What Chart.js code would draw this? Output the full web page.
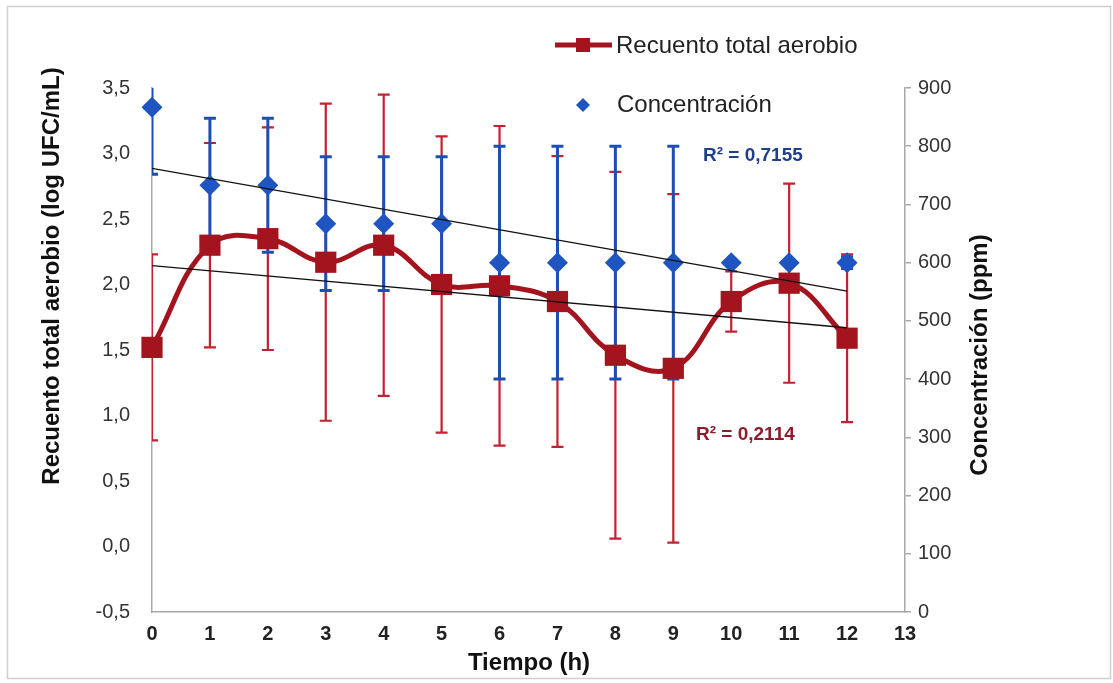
<!DOCTYPE html>
<html>
<head>
<meta charset="utf-8">
<script src="https://cdn.jsdelivr.net/npm/chart.js@4.4.0/dist/chart.umd.min.js"></script>
<style>
  body { margin: 0; background: #fff; }
  #wrap { width: 1113px; height: 683px; }
</style>
</head>
<body>
<div id="wrap"><canvas id="myChart" width="1113" height="683"></canvas></div>
<script>
// datos
const tiempo = [0, 1, 2, 3, 4, 5, 6, 7, 8, 9, 10, 11, 12];
const recuento = [1.52, 2.30, 2.35, 2.17, 2.30, 2.00, 1.99, 1.87, 1.46, 1.36, 1.87, 2.01, 1.59];
const recuentoErr = [0.71, 0.78, 0.85, 1.21, 1.15, 1.13, 1.22, 1.11, 1.40, 1.33, 0.23, 0.76, 0.64];
const concentracion = [867, 733, 733, 667, 667, 667, 600, 600, 600, 600, 600, 600, 600];
const concentracionErr = [115, 115, 115, 115, 115, 115, 200, 200, 200, 200, 0, 0, 10];
const r2Recuento = 'R² = 0,2114';
const r2Concentracion = 'R² = 0,7155';
const leftTicks = { min: -0.5, max: 3.5, step: 0.5 };
const rightTicks = { min: 0, max: 900, step: 100 };
const xTicks = { min: 0, max: 13, step: 1 };

const ROJO = '#a3141f';
const ROJO_ERR = '#c42030';
const AZUL = '#1f55c0';
const AZUL_ERR = '#1c4fb5';
const FONT = '"Liberation Sans", Arial, sans-serif';

// linea de tendencia (minimos cuadrados)
const tendencia = (xs, ys) => {
  const n = xs.length;
  const mx = xs.reduce((a, b) => a + b, 0) / n;
  const my = ys.reduce((a, b) => a + b, 0) / n;
  let sxy = 0, sxx = 0;
  xs.forEach((x, i) => { sxy += (x - mx) * (ys[i] - my); sxx += (x - mx) * (x - mx); });
  const m = sxy / sxx;
  const b = my - m * mx;
  const x0 = xs[0], x1 = xs[n - 1];
  return [{ x: x0, y: b + m * x0 }, { x: x1, y: b + m * x1 }];
};

const pares = (ys) => tiempo.map((t, i) => ({ x: t, y: ys[i] }));

const dibujarBarras = (ctx, sx, sy, ys, errs, color, width) => {
  ctx.strokeStyle = color;
  ctx.lineWidth = width;
  ys.forEach((v, i) => {
    if (!errs[i]) return;
    const x = sx.getPixelForValue(tiempo[i]);
    const yt = sy.getPixelForValue(v + errs[i]);
    const yb = sy.getPixelForValue(v - errs[i]);
    ctx.beginPath();
    ctx.moveTo(x, yt); ctx.lineTo(x, yb);
    ctx.moveTo(x - 6, yt); ctx.lineTo(x + 6, yt);
    ctx.moveTo(x - 6, yb); ctx.lineTo(x + 6, yb);
    ctx.stroke();
  });
};

const errorBars = {
  id: 'errorBars',
  beforeDatasetsDraw(chart) {
    const { ctx, chartArea, scales } = chart;
    ctx.save();
    ctx.beginPath();
    ctx.rect(chartArea.left, chartArea.top, chartArea.right - chartArea.left, chartArea.bottom - chartArea.top);
    ctx.clip();
    dibujarBarras(ctx, scales.x, scales.y, recuento, recuentoErr, ROJO_ERR, 2.2);
    dibujarBarras(ctx, scales.x, scales.y2, concentracion, concentracionErr, AZUL_ERR, 3);
    ctx.restore();
  }
};

const extras = {
  id: 'extras',
  afterDraw(chart) {
    const { ctx } = chart;
    ctx.save();
    // marco
    ctx.strokeStyle = '#cfcfcf';
    ctx.lineWidth = 1.5;
    ctx.strokeRect(7.5, 6.5, 1103, 672);

    // leyenda
    ctx.strokeStyle = ROJO;
    ctx.lineWidth = 5;
    ctx.beginPath(); ctx.moveTo(555, 45); ctx.lineTo(612, 45); ctx.stroke();
    ctx.fillStyle = ROJO;
    ctx.fillRect(576, 38, 14, 14);
    ctx.fillStyle = AZUL;
    ctx.beginPath();
    ctx.moveTo(583, 98); ctx.lineTo(590, 105); ctx.lineTo(583, 112); ctx.lineTo(576, 105);
    ctx.closePath(); ctx.fill();
    ctx.fillStyle = '#222';
    ctx.font = '24px ' + FONT;
    ctx.textAlign = 'left';
    ctx.textBaseline = 'middle';
    ctx.fillText('Recuento total aerobio', 616, 46);
    ctx.fillText('Concentración', 617, 105);

    // R²
    ctx.font = 'bold 19px ' + FONT;
    ctx.fillStyle = '#1f3f8c';
    ctx.fillText(r2Concentracion, 703, 156);
    ctx.fillStyle = '#8c1c2e';
    ctx.fillText(r2Recuento, 696, 435);

    // titulos de ejes
    ctx.fillStyle = '#111';
    ctx.font = 'bold 24px ' + FONT;
    ctx.textAlign = 'center';
    ctx.fillText('Tiempo (h)', 529, 663);
    ctx.save();
    ctx.translate(52, 276);
    ctx.rotate(-Math.PI / 2);
    ctx.fillText('Recuento total aerobio (log UFC/mL)', 0, 0);
    ctx.restore();
    ctx.save();
    ctx.translate(980, 355);
    ctx.rotate(-Math.PI / 2);
    ctx.fillText('Concentración (ppm)', 0, 0);
    ctx.restore();
    ctx.restore();
  }
};

new Chart(document.getElementById('myChart'), {
  type: 'line',
  data: {
    datasets: [
      {
        label: 'Tendencia recuento',
        data: tendencia(tiempo, recuento),
        yAxisID: 'y',
        borderColor: '#111',
        borderWidth: 1.3,
        pointRadius: 0,
        order: 0
      },
      {
        label: 'Tendencia concentración',
        data: tendencia(tiempo, concentracion),
        yAxisID: 'y2',
        borderColor: '#111',
        borderWidth: 1.3,
        pointRadius: 0,
        order: 0
      },
      {
        label: 'Recuento total aerobio',
        data: pares(recuento),
        yAxisID: 'y',
        borderColor: ROJO,
        backgroundColor: ROJO,
        borderWidth: 5,
        tension: 0.4,
        borderCapStyle: 'round',
        borderJoinStyle: 'round',
        pointStyle: 'rect',
        pointRadius: 15,
        pointBorderWidth: 0,
        clip: false,
        order: 1
      },
      {
        label: 'Concentración',
        data: pares(concentracion),
        yAxisID: 'y2',
        showLine: false,
        borderColor: AZUL,
        backgroundColor: AZUL,
        pointStyle: 'rectRot',
        pointRadius: 10.5,
        pointBorderWidth: 0,
        clip: false,
        order: 2
      }
    ]
  },
  options: {
    responsive: false,
    animation: false,
    layout: { padding: { top: 88, left: 0, right: 0, bottom: 0 } },
    plugins: { legend: { display: false }, tooltip: { enabled: false } },
    scales: {
      x: {
        type: 'linear',
        position: 'bottom',
        min: xTicks.min,
        max: xTicks.max,
        ticks: { stepSize: xTicks.step, padding: 10, color: '#222', font: { family: FONT, size: 20, weight: 'bold' } },
        grid: { display: false, drawTicks: false },
        border: { display: true, color: '#a8a8a8', width: 1.5 },
        afterFit: (s) => { s.height = 71; }
      },
      y: {
        position: 'left',
        min: leftTicks.min,
        max: leftTicks.max,
        ticks: {
          stepSize: leftTicks.step,
          padding: 22,
          color: '#333',
          font: { family: FONT, size: 20 },
          callback: (v) => v.toFixed(1).replace('.', ',')
        },
        grid: { display: false, drawTicks: false },
        border: { display: true, color: '#a8a8a8', width: 1.5 },
        afterFit: (s) => { s.width = 152; }
      },
      y2: {
        position: 'right',
        min: rightTicks.min,
        max: rightTicks.max,
        ticks: { stepSize: rightTicks.step, padding: 7, color: '#333', font: { family: FONT, size: 20 } },
        grid: { display: true, drawOnChartArea: false, drawTicks: true, tickLength: 6, color: '#a8a8a8', lineWidth: 1.5 },
        border: { display: true, color: '#a8a8a8', width: 1.5 },
        afterFit: (s) => { s.width = 208; }
      }
    }
  },
  plugins: [errorBars, extras]
});
</script>
</body>
</html>
